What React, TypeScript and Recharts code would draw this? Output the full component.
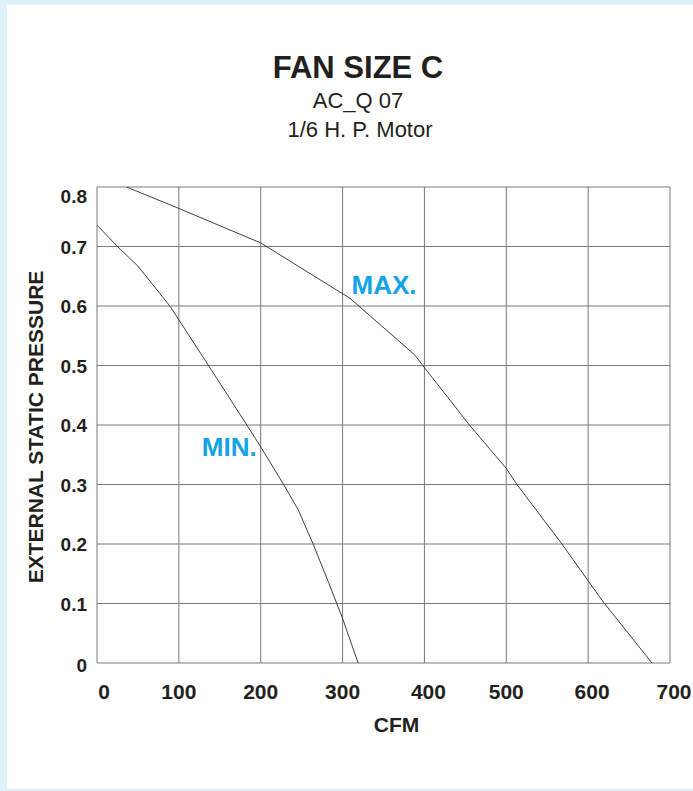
import React from 'react';
import { LineChart, Line, XAxis, YAxis, CartesianGrid, ReferenceDot, Label } from 'recharts';

const cfmTicks = [0, 100, 200, 300, 400, 500, 600, 700];
const espTicks = [0, 0.1, 0.2, 0.3, 0.4, 0.5, 0.6, 0.7, 0.8];

const maxCfm = [36, 100, 200, 309, 388, 398, 455, 500, 513, 568, 600, 620, 678];
const maxEsp = [0.8, 0.764, 0.706, 0.613, 0.518, 0.5, 0.4, 0.327, 0.3, 0.2, 0.138, 0.1, 0];

const minCfm = [0, 25, 50, 89, 140, 183, 201, 228, 246, 264, 283, 300, 319];
const minEsp = [0.736, 0.7, 0.667, 0.6, 0.492, 0.4, 0.361, 0.3, 0.257, 0.2, 0.135, 0.075, 0];

const curveLabels = [
  { text: 'MAX.', cfm: 311, esp: 0.62 },
  { text: 'MIN.', cfm: 128, esp: 0.348 },
];

const maxData = maxCfm.map((c, i) => ({ cfm: c, esp: maxEsp[i] }));
const minData = minCfm.map((c, i) => ({ cfm: c, esp: minEsp[i] }));

const FONT = '"Liberation Sans", Arial, Helvetica, sans-serif';
const NARROW = '"Liberation Sans Narrow", "Arial Narrow", "Liberation Sans", Arial, sans-serif';
const TEXT = '#231f20';
const BLUE = '#12a4e6';
const GRID = '#7a7a7a';

const xTickShift: Record<number, number> = { 0: 7, 400: 4, 600: 4, 700: 4 };

const XTick = (props: any) => {
  const { x, y, payload } = props;
  const dx = xTickShift[payload.value] || 0;
  return (
    <text x={x + dx} y={y + 36} textAnchor="middle" fontFamily={FONT} fontWeight="bold" fontSize={21} fill={TEXT}>
      {payload.value}
    </text>
  );
};

const YTick = (props: any) => {
  const { x, y, payload } = props;
  const v = payload.value;
  const dy = v === 0.8 ? 16 : v === 0 ? 9 : 7;
  const label = v === 0 ? '0' : v.toFixed(1);
  return (
    <text x={x} y={y + dy} textAnchor="end" fontFamily={NARROW} fontWeight="bold" fontSize={19} fill={TEXT}>
      {label}
    </text>
  );
};

export default function App() {
  return (
    <div style={{ position: 'absolute', left: 0, top: 0, width: 693, height: 791, background: '#e0f1fb', overflow: 'hidden' }}>
      <div style={{ position: 'absolute', left: 7, top: 5, width: 686, height: 784, background: '#ffffff' }} />
      <svg style={{ position: 'absolute', left: 0, top: 0 }} width={693} height={791}>
        <text x={358} y={78} textAnchor="middle" fontFamily={FONT} fontWeight="bold" fontSize={31} fill={TEXT}>
          FAN SIZE C
        </text>
        <text x={358} y={108} textAnchor="middle" fontFamily={FONT} fontSize={22} fill={TEXT}>
          AC_Q 07
        </text>
        <text x={360} y={137} textAnchor="middle" fontFamily={FONT} fontSize={22} fill={TEXT}>
          1/6 H. P. Motor
        </text>
      </svg>
      <div style={{ position: 'absolute', left: 0, top: 0 }}>
        <LineChart width={693} height={791} margin={{ top: 187, right: 23, bottom: 98, left: 37 }}>
          <CartesianGrid stroke={GRID} strokeWidth={1} horizontalValues={espTicks} verticalValues={cfmTicks} fill="none" />
          <XAxis
            type="number"
            dataKey="cfm"
            domain={[0, 700]}
            ticks={cfmTicks}
            interval={0}
            axisLine={false}
            tickLine={false}
            tickSize={0}
            tickMargin={0}
            height={30}
            tick={<XTick />}
            allowDataOverflow
          >
            <Label
              content={(p: any) => (
                <text
                  x={p.viewBox.x + p.viewBox.width / 2 + 13}
                  y={p.viewBox.y + 69}
                  textAnchor="middle"
                  fontFamily={FONT}
                  fontWeight="bold"
                  fontSize={21}
                  fill={TEXT}
                >
                  CFM
                </text>
              )}
            />
          </XAxis>
          <YAxis
            type="number"
            dataKey="esp"
            domain={[0, 0.8]}
            ticks={espTicks}
            interval={0}
            axisLine={false}
            tickLine={false}
            tickSize={0}
            tickMargin={10}
            width={60}
            tick={<YTick />}
            allowDataOverflow
          >
            <Label
              content={(p: any) => {
                const cx = p.viewBox.x + 6;
                const cy = p.viewBox.y + p.viewBox.height / 2 + 2;
                return (
                  <text
                    transform={`translate(${cx},${cy}) rotate(-90)`}
                    textAnchor="middle"
                    fontFamily={FONT}
                    fontWeight="bold"
                    fontSize={21}
                    fill={TEXT}
                  >
                    EXTERNAL STATIC PRESSURE
                  </text>
                );
              }}
            />
          </YAxis>
          <Line data={maxData} dataKey="esp" type="linear" stroke="#2a2a2a" strokeWidth={0.9} dot={false} isAnimationActive={false} />
          <Line data={minData} dataKey="esp" type="linear" stroke="#2a2a2a" strokeWidth={0.9} dot={false} isAnimationActive={false} />
          {curveLabels.map((l) => (
            <ReferenceDot
              key={l.text}
              x={l.cfm}
              y={l.esp}
              r={0}
              shape={(p: any) => (
                <text x={p.cx} y={p.cy} textAnchor="start" fontFamily={FONT} fontWeight="bold" fontSize={26} fill={BLUE}>
                  {l.text}
                </text>
              )}
            />
          ))}
        </LineChart>
      </div>
    </div>
  );
}
